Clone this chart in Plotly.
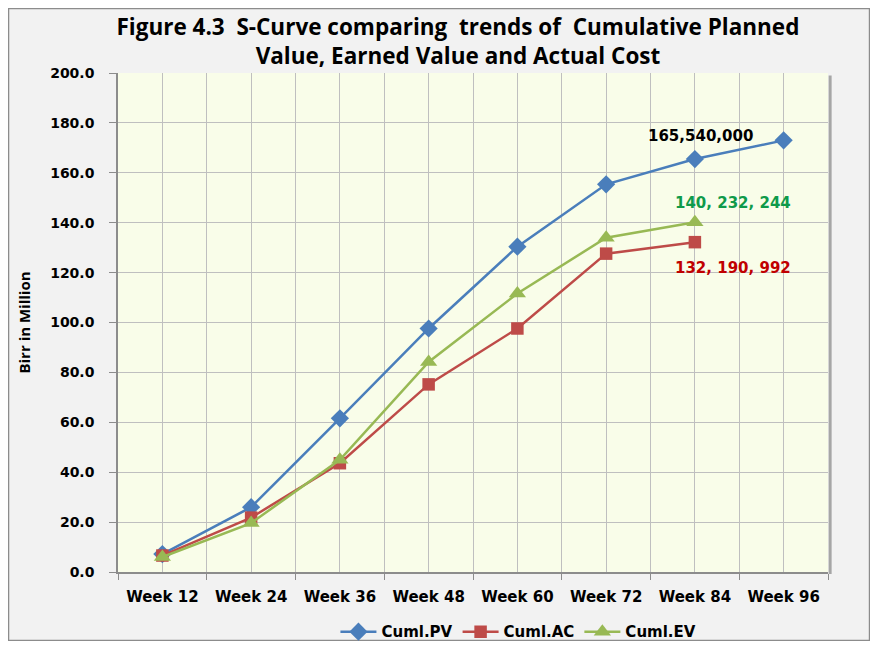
import plotly.graph_objects as go

weeks = ["Week 12", "Week 24", "Week 36", "Week 48", "Week 60", "Week 72", "Week 84", "Week 96"]
cuml_pv = [7.2, 26.0, 61.6, 97.6, 130.4, 155.4, 165.5, 173.0]
cuml_ac = [6.6, 21.8, 43.6, 75.2, 97.6, 127.6, 132.2]
cuml_ev = [6.0, 19.6, 45.0, 84.2, 111.6, 134.0, 140.2]
y_ticks = [0, 20, 40, 60, 80, 100, 120, 140, 160, 180, 200]

TFONT = "Open Sans"
FONT = "DejaVu Sans"
xs = list(range(len(weeks)))

fig = go.Figure()
fig.add_trace(go.Scatter(x=xs[:len(cuml_pv)], y=cuml_pv, name="<b>Cuml.PV</b>", mode="lines+markers",
                         line=dict(color="#4a7ebb", width=2.5),
                         marker=dict(symbol="diamond", size=14, color="#4a7ebb")))
fig.add_trace(go.Scatter(x=xs[:len(cuml_ac)], y=cuml_ac, name="<b>Cuml.AC</b>", mode="lines+markers",
                         line=dict(color="#be4b48", width=2.5),
                         marker=dict(symbol="square", size=12.5, color="#be4b48")))
fig.add_trace(go.Scatter(x=xs[:len(cuml_ev)], y=cuml_ev, name="<b>Cuml.EV</b>", mode="lines+markers",
                         line=dict(color="#98b954", width=2.5),
                         marker=dict(symbol="triangle-up", size=15, color="#98b954")))

grid = "#bfbfbf"
fig.update_layout(
    width=862, height=633,
    paper_bgcolor="#f2f2f2", plot_bgcolor="#f9fde9",
    margin=dict(l=110, r=42, t=65, b=69, autoexpand=False),
    font=dict(family=FONT, color="black"),
    title=dict(text="<b>Figure 4.3  S-Curve comparing  trends of  Cumulative Planned<br>Value, Earned Value and Actual Cost</b>",
               x=0.522, xanchor="center", y=0.957, yanchor="top", automargin=False,
               font=dict(family=TFONT, size=22.5, color="black")),
    xaxis=dict(range=[-0.5, len(weeks) - 0.5], tickvals=xs, ticktext=["<b>%s</b>" % w for w in weeks],
               showgrid=True, gridcolor=grid, gridwidth=1, zeroline=False, automargin=False,
               showline=True, linecolor="#8c8c8c", linewidth=1.5, ticks="",
               ticklabelstandoff=10,
               tickfont=dict(family=FONT, size=15, color="black"),
               minor=dict(tickvals=[i - 0.5 for i in range(len(weeks) + 1)], showgrid=True,
                          gridcolor=grid, ticks="outside", ticklen=6, tickcolor="#8c8c8c")),
    yaxis=dict(range=[0, 200], tickvals=y_ticks, ticktext=["<b>%.1f</b>" % v for v in y_ticks],
               showgrid=True, gridcolor=grid, gridwidth=1, zeroline=False, automargin=False,
               showline=True, linecolor="#8c8c8c", linewidth=1.5, ticks="outside", ticklen=7,
               ticklabelstandoff=12,
               tickcolor="#8c8c8c", tickfont=dict(family=FONT, size=14, color="black"),
               title=dict(text="<b>Birr in Million</b>", font=dict(family=TFONT, size=15, color="black"),
                          standoff=16)),
    legend=dict(orientation="h", x=0.564, xanchor="center", y=-0.12, yanchor="middle",
                font=dict(family=FONT, size=15, color="black"), bgcolor="rgba(0,0,0,0)",
                itemwidth=36, tracegroupgap=0),
    showlegend=True,
)

fig.add_annotation(x=6, y=cuml_pv[6], text="<b>165,540,000</b>", showarrow=False, xshift=6, yshift=23,
                   font=dict(family=FONT, size=15, color="black"))
fig.add_annotation(x=6, y=cuml_ev[6], text="<b>140, 232, 244</b>", showarrow=False, xshift=38, yshift=19,
                   font=dict(family=FONT, size=15, color="#0f9a4a"))
fig.add_annotation(x=6, y=cuml_ac[6], text="<b>132, 190, 992</b>", showarrow=False, xshift=38, yshift=-26,
                   font=dict(family=FONT, size=15, color="#c00000"))

# plot-area bevel shadow (right and bottom)
fig.add_shape(type="line", xref="paper", yref="paper", x0=1.003, x1=1.003, y0=-0.004, y1=0.995,
              line=dict(color="#a6a6a6", width=3))
# outer frame
fig.add_shape(type="rect", xref="paper", yref="paper", x0=-0.1542, x1=1.0585, y0=-0.1373, y1=1.1293,
              line=dict(color="#8c8c8c", width=1.5), fillcolor="rgba(0,0,0,0)", layer="below")

fig.write_html("out.html")
